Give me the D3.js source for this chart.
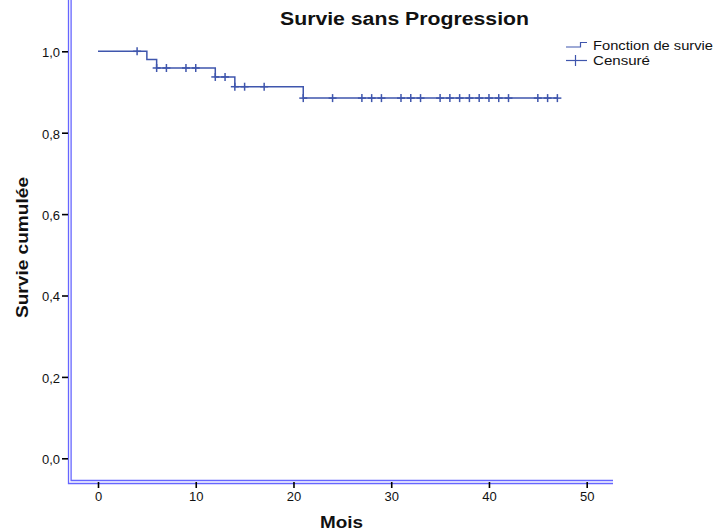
<!DOCTYPE html>
<html>
<head>
<meta charset="utf-8">
<script src="https://cdn.jsdelivr.net/npm/d3@7"></script>
<style>
  html, body { margin: 0; padding: 0; background: #fff; }
  svg { display: block; }
  text { font-family: Arial, "Liberation Sans", sans-serif; }
</style>
</head>
<body>
<svg id="chart" width="714" height="530"></svg>
<script>
// Kaplan-Meier estimate: step times (months) and survival after each step
const stepTimes = [0, 5, 6, 12, 14, 21];
const stepSurvival = [1.0, 0.980, 0.959, 0.937, 0.913, 0.885];
const endTime = 47;
// Censored observations (months)
const censorTimes = [4, 6, 7, 9, 10, 12, 13, 14, 15, 17, 21, 24, 27, 28, 29, 31, 32, 33,
                     35, 36, 37, 38, 39, 40, 41, 42, 45, 46, 47];
const xTicks = [0, 10, 20, 30, 40, 50];
const yTicks = [0.0, 0.2, 0.4, 0.6, 0.8, 1.0];

const svg = d3.select("#chart");
const lineColor = "#3f56ad";
const axisBlue = "#6666ff";
const FONT = "Arial, 'Liberation Sans', sans-serif";

const x = d3.scaleLinear().domain([0, 50]).range([98, 586.7]);
const y = d3.scaleLinear().domain([0, 1]).range([458.3, 51.3]);

// survival at time t (right-continuous step)
function survAt(t) {
  let s = stepSurvival[0];
  for (let i = 0; i < stepTimes.length; i++) if (stepTimes[i] <= t) s = stepSurvival[i];
  return s;
}

// Frame: double blue lines on left and bottom
const frameLeft = 68.5, frameBottom = 480.5;
svg.append("path").attr("d", `M${frameLeft},0V${frameBottom + 3}H613`)
  .attr("fill", "none").attr("stroke", axisBlue).attr("stroke-width", 1.3);
svg.append("path").attr("d", `M${frameLeft + 2.6},0V${frameBottom}H613`)
  .attr("fill", "none").attr("stroke", axisBlue).attr("stroke-width", 1.3);

// Y axis
const yAxis = d3.axisLeft(y).tickValues(yTicks).tickSize(6).tickPadding(2)
  .tickFormat(d => d3.format(".1f")(d).replace(".", ","));
const gy = svg.append("g").attr("transform", `translate(${frameLeft - 0.5},0)`).call(yAxis);
gy.select(".domain").remove();
gy.selectAll(".tick line").attr("stroke", "#000").attr("stroke-width", 1.6);
gy.selectAll(".tick text").attr("font-size", 13).attr("fill", "#111").attr("dy", "0.42em")
  .style("font-family", FONT);

// X axis
const xAxis = d3.axisBottom(x).tickValues(xTicks).tickSize(6).tickPadding(4)
  .tickFormat(d3.format("d"));
const gx = svg.append("g").attr("transform", `translate(0,${frameBottom + 1.5})`).call(xAxis);
gx.select(".domain").remove();
gx.selectAll(".tick line").attr("stroke", "#000").attr("stroke-width", 1.6);
gx.selectAll(".tick text").attr("font-size", 13).attr("fill", "#111")
  .style("font-family", FONT);

// Survival step line
const pts = [];
stepTimes.forEach((t, i) => {
  if (i > 0) pts.push([t, stepSurvival[i - 1]]);
  pts.push([t, stepSurvival[i]]);
});
pts.push([endTime, stepSurvival[stepSurvival.length - 1]]);
svg.append("path")
  .attr("d", d3.line().x(d => x(d[0])).y(d => y(d[1]))(pts))
  .attr("fill", "none").attr("stroke", lineColor).attr("stroke-width", 1.5);

// Censor marks (+)
const cg = svg.append("g").attr("stroke", lineColor).attr("stroke-width", 1.5);
cg.selectAll("line.v").data(censorTimes).join("line").attr("class", "v")
  .attr("x1", d => x(d)).attr("x2", d => x(d))
  .attr("y1", d => y(survAt(d)) - 4).attr("y2", d => y(survAt(d)) + 4);
cg.selectAll("line.h").data(censorTimes).join("line").attr("class", "h")
  .attr("x1", d => x(d) - 4).attr("x2", d => x(d) + 4)
  .attr("y1", d => y(survAt(d))).attr("y2", d => y(survAt(d)));

// Titles
svg.append("text").attr("x", 404.5).attr("y", 25).attr("text-anchor", "middle")
  .attr("font-size", 17.5).attr("font-weight", "bold").attr("fill", "#111")
  .attr("textLength", 249).attr("lengthAdjust", "spacingAndGlyphs")
  .text("Survie sans Progression");
svg.append("text").attr("x", 341.5).attr("y", 528).attr("text-anchor", "middle")
  .attr("font-size", 16).attr("font-weight", "bold").attr("fill", "#111")
  .attr("textLength", 43).attr("lengthAdjust", "spacingAndGlyphs")
  .text("Mois");
svg.append("text").attr("transform", "translate(28,247.5) rotate(-90)")
  .attr("text-anchor", "middle").attr("font-size", 17).attr("font-weight", "bold")
  .attr("textLength", 141).attr("lengthAdjust", "spacingAndGlyphs")
  .attr("fill", "#111").text("Survie cumulée");

// Legend
const lg = svg.append("g");
lg.append("path").attr("d", "M566,47H580.5V42.5H587")
  .attr("fill", "none").attr("stroke", lineColor).attr("stroke-width", 1.2);
lg.append("line").attr("x1", 566).attr("x2", 587).attr("y1", 60.5).attr("y2", 60.5)
  .attr("stroke", lineColor).attr("stroke-width", 1.2);
lg.append("line").attr("x1", 575.5).attr("x2", 575.5).attr("y1", 55).attr("y2", 66)
  .attr("stroke", lineColor).attr("stroke-width", 1.2);
lg.append("text").attr("x", 593).attr("y", 49.5).attr("font-size", 13).attr("fill", "#111")
  .attr("textLength", 120).attr("lengthAdjust", "spacingAndGlyphs")
  .text("Fonction de survie");
lg.append("text").attr("x", 593).attr("y", 65).attr("font-size", 13).attr("fill", "#111")
  .attr("textLength", 57).attr("lengthAdjust", "spacingAndGlyphs")
  .text("Censuré");
</script>
</body>
</html>
